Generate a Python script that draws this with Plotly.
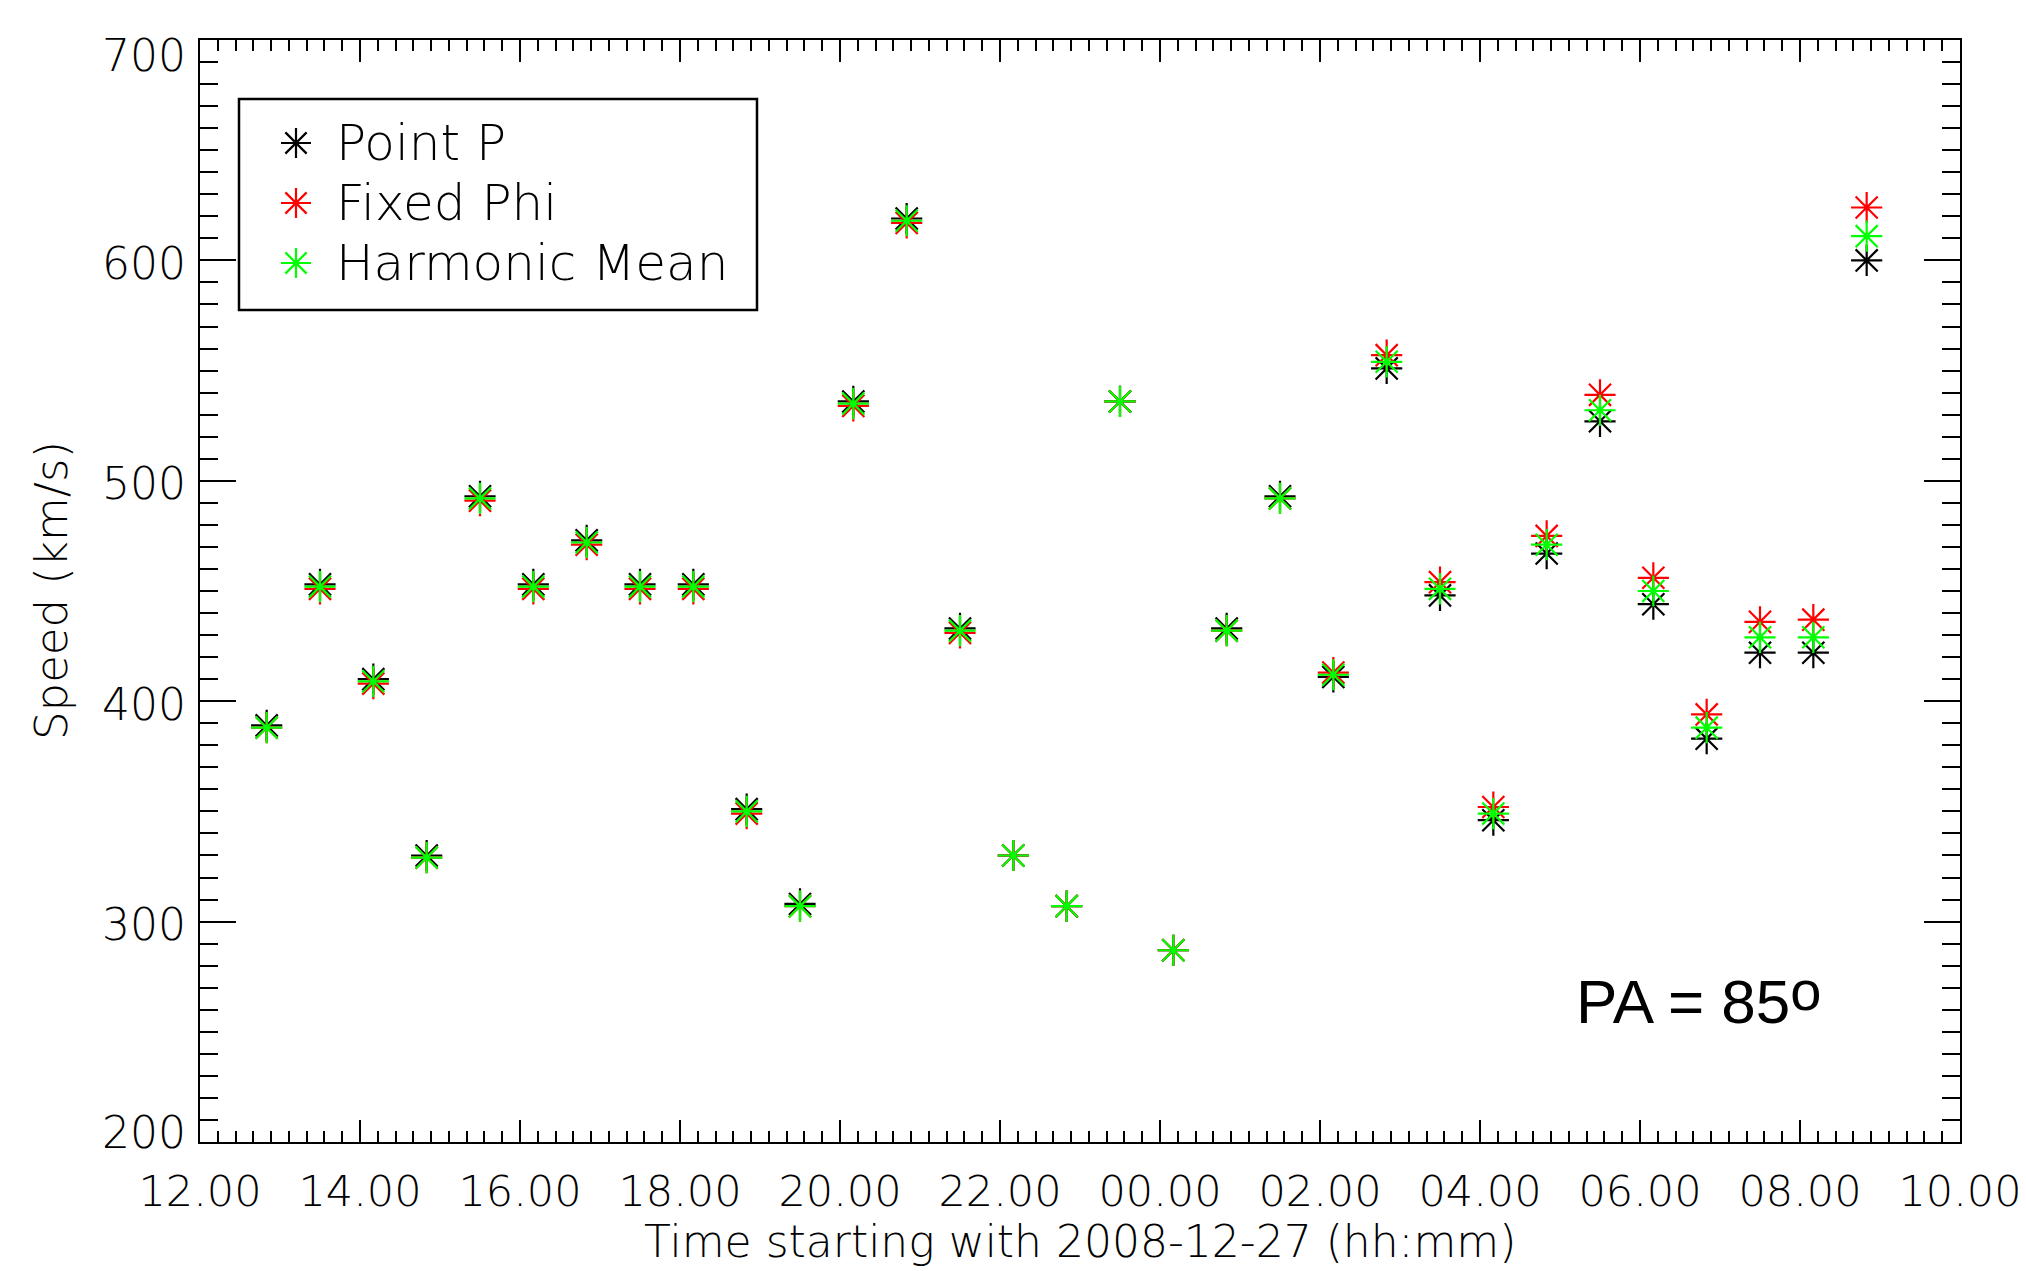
import plotly.graph_objects as go

# ---------------- data ----------------
times = ["12:50", "13:30", "14:10", "14:50", "15:30", "16:10", "16:50", "17:30",
         "18:10", "18:50", "19:30", "20:10", "20:50", "21:30", "22:10", "22:50",
         "23:30", "00:10", "00:50", "01:30", "02:10", "02:50", "03:30", "04:10",
         "04:50", "05:30", "06:10", "06:50", "07:30", "08:10", "08:50"]

point_p = [389, 453, 410, 330, 493, 453, 473, 453, 453, 351, 308, 536, 619, 433,
           330, 307, 536, 287, 433, 493, 411, 551, 448, 346, 467, 527, 444, 383,
           422, 422, 600]
fixed_phi = [388, 451, 408, 329, 491, 451, 471, 451, 451, 349, 307, 534, 617, 431,
             330, 307, 536, 287, 432, 492, 413, 557, 454, 352, 475, 539, 456, 394,
             436, 437, 624]
harmonic_mean = [388, 452, 409, 329, 492, 452, 472, 452, 452, 350, 307, 535, 618, 432,
                 330, 307, 536, 287, 432, 492, 412, 554, 451, 349, 471, 532, 450, 388,
                 429, 429, 611]

series_names = ["Point P", "Fixed Phi", "Harmonic Mean"]
series_colors = ["#000000", "#ff0000", "#00ff00"]

tick_hours = [12, 14, 16, 18, 20, 22, 24, 26, 28, 30, 32, 34]
tick_text = ["12.00", "14.00", "16.00", "18.00", "20.00", "22.00",
             "00.00", "02.00", "04.00", "06.00", "08.00", "10.00"]
y_ticks = [200, 300, 400, 500, 600, 700]


# convert hh:mm (starting 2008-12-27 12:00) to continuous hours
def to_hours(t):
    h, m = map(int, t.split(":"))
    v = h + m / 60.0
    if v < 12:
        v += 24
    return v


x = [to_hours(t) for t in times]

# ---------------- layout geometry (page pixels) ----------------
W, H = 2026, 1271
OFF = 8                      # default body margin of the html page
L, R, T, B = 200, 1960, 40, 1142


def px_x(p):
    return (p - L) / (R - L)


def px_y(p):
    return (B - p) / (B - T)


FONT = "DejaVu Sans"
TXT = dict(family=FONT, color="black", weight=200)

fig = go.Figure()
for name, vals, col in zip(series_names, [point_p, fixed_phi, harmonic_mean], series_colors):
    fig.add_trace(go.Scatter(
        x=x, y=vals, mode="markers", name=name, showlegend=False,
        marker=dict(symbol="asterisk-open", size=26, color=col,
                    line=dict(color=col, width=2.2)),
    ))

# legend (drawn by hand to reproduce the large IDL-style legend box)
leg_rows = [143, 203, 263]
fig.add_trace(go.Scatter(
    x=[px_x(296)] * 3, y=[px_y(r) for r in leg_rows], xaxis="x2", yaxis="y2",
    mode="markers", showlegend=False, hoverinfo="skip",
    marker=dict(symbol="asterisk-open", size=25, color=series_colors,
                line=dict(color=series_colors, width=2.2)),
))
fig.add_shape(type="rect", xref="paper", yref="paper",
              x0=px_x(239), x1=px_x(757), y0=px_y(310), y1=px_y(99),
              line=dict(color="black", width=2.5), fillcolor="rgba(0,0,0,0)", layer="above")
for name, r in zip(series_names, leg_rows):
    fig.add_annotation(text=name, xref="paper", yref="paper", x=px_x(334), y=px_y(r),
                       xanchor="left", yanchor="middle", showarrow=False,
                       font=dict(size=50, **TXT))

axis_common = dict(
    showline=True, linecolor="black", linewidth=2, mirror="ticks",
    ticks="inside", tickcolor="black", tickwidth=2,
    showgrid=False, zeroline=False,
)

fig.update_xaxes(
    range=[12, 34], tickmode="array", tickvals=tick_hours, ticktext=tick_text,
    ticklen=22, ticklabelstandoff=10, tickfont=dict(size=43, **TXT),
    minor=dict(ticks="inside", ticklen=11, tickwidth=2, tickcolor="black",
               dtick=2 / 9, tick0=12, showgrid=False),
    **axis_common,
)
fig.update_yaxes(
    range=[200, 700], tickmode="array", tickvals=y_ticks, ticklen=36,
    showticklabels=False,
    minor=dict(ticks="inside", ticklen=18, tickwidth=2, tickcolor="black",
               dtick=10, showgrid=False),
    **axis_common,
)
fig.update_layout(
    xaxis2=dict(overlaying="x", range=[0, 1], visible=False, fixedrange=True),
    yaxis2=dict(overlaying="y", range=[0, 1], visible=False, fixedrange=True),
)

# y tick labels (IDL keeps the end labels inside the axis span)
for v in y_ticks:
    shift = -3
    if v == y_ticks[-1]:
        shift = -15
    elif v == y_ticks[0]:
        shift = 10
    fig.add_annotation(text=str(v), xref="paper", yref="y", x=0, y=v,
                       xanchor="right", yanchor="middle", xshift=-12, yshift=shift,
                       showarrow=False, font=dict(size=44, **TXT))

fig.add_annotation(
    text="Time starting with 2008-12-27 (hh:mm)", xref="paper", yref="paper",
    x=0.5, y=0, xanchor="center", yanchor="middle", yshift=-99, showarrow=False,
    font=dict(size=44, **TXT),
)
fig.add_annotation(
    text="Speed (km/s)", xref="paper", yref="paper", textangle=-90,
    x=0, y=0.5, xanchor="center", yanchor="middle", xshift=-149, showarrow=False,
    font=dict(size=45, **TXT),
)
fig.add_annotation(
    text='PA = 85<span style="font-size:56px;baseline-shift:13px">o</span>',
    xref="paper", yref="paper",
    x=px_x(1574), y=px_y(997), xanchor="left", yanchor="middle",
    showarrow=False,
    font=dict(family="Liberation Sans", size=62, color="black"),
)

fig.update_layout(
    width=W, height=H,
    margin=dict(l=L - OFF, r=W - (R - OFF), t=T - OFF, b=H - (B - OFF)),
    paper_bgcolor="white", plot_bgcolor="white",
    showlegend=False,
)

fig.write_html("out.html")
